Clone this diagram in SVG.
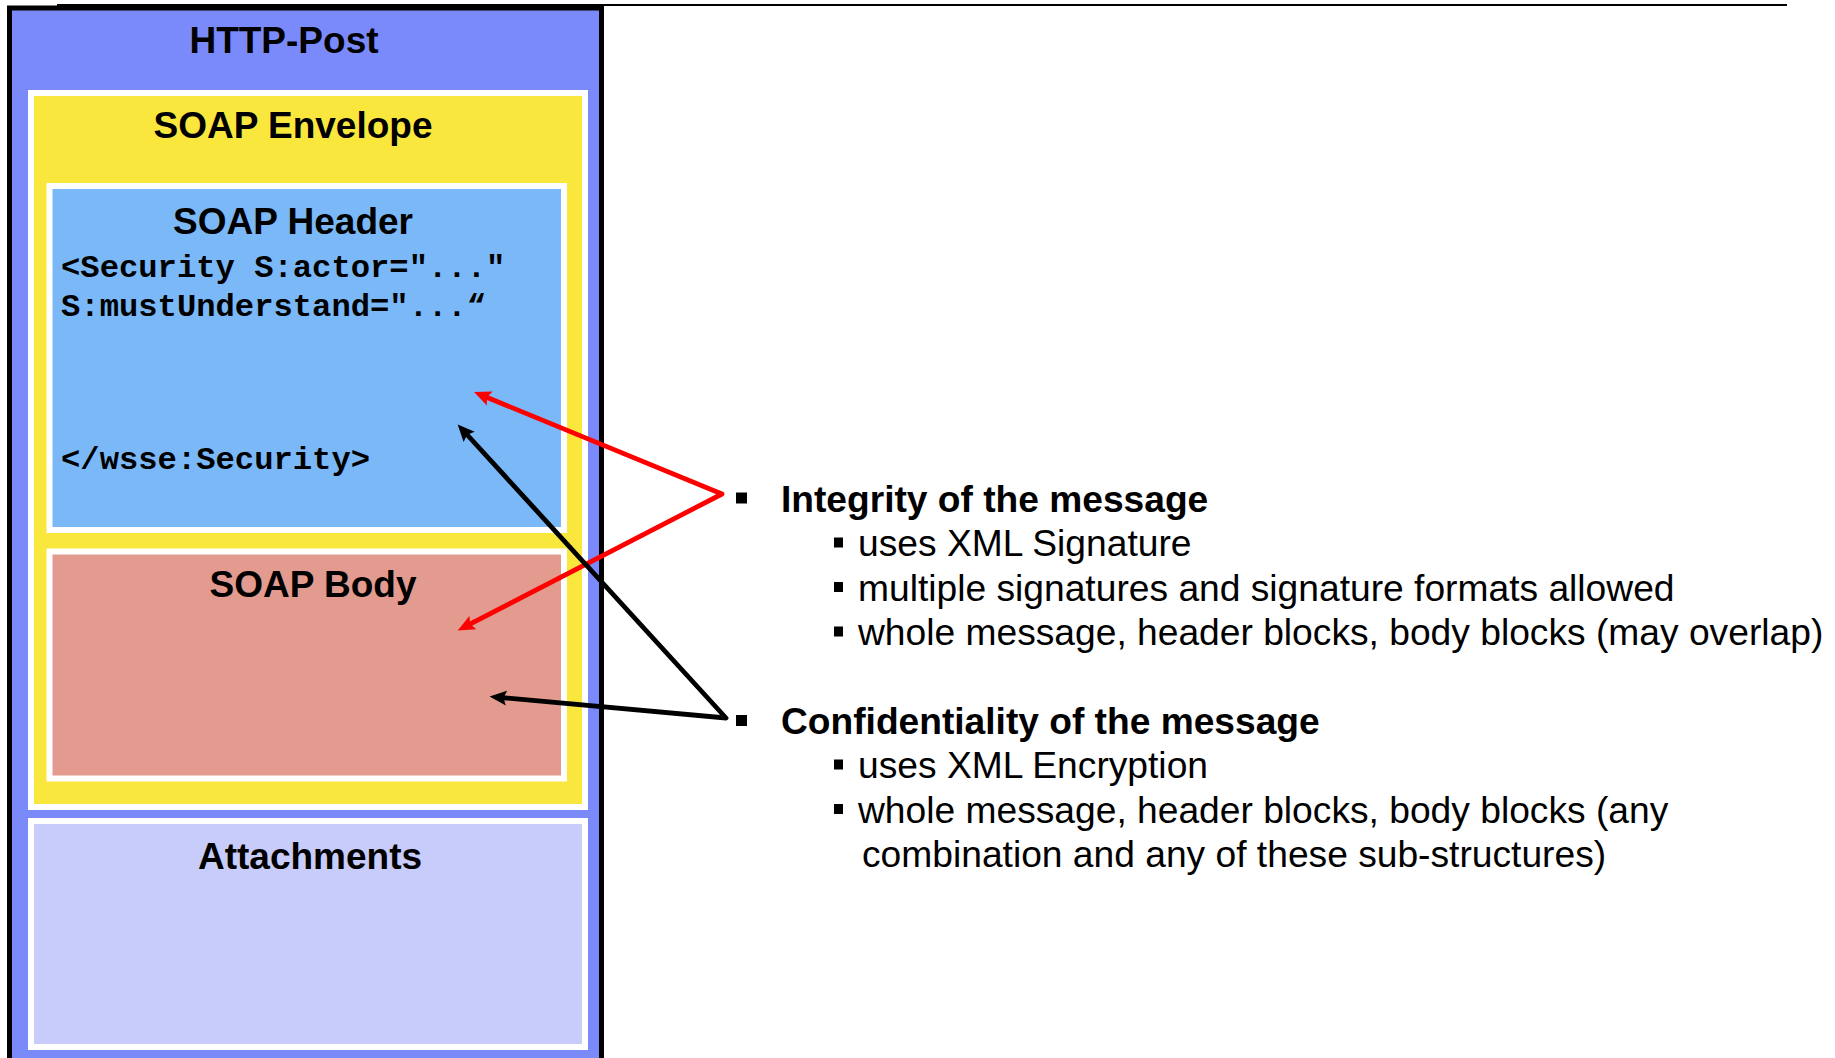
<svg xmlns="http://www.w3.org/2000/svg" width="1835" height="1058" viewBox="0 0 1835 1058">
  <style>
    .title { font-family: "Liberation Sans", Arial, sans-serif; font-weight: bold; font-size: 37px; fill: #000; text-anchor: middle; }
    .code { font-family: "Liberation Mono", "Courier New", monospace; font-weight: bold; font-size: 32.2px; fill: #000; }
    .h1 { font-family: "Liberation Sans", Arial, sans-serif; font-weight: bold; font-size: 37.15px; fill: #000; }
    .h2 { font-family: "Liberation Sans", Arial, sans-serif; font-size: 37.2px; fill: #000; }
    .box { stroke: #fff; stroke-width: 6; }
    .arrow { fill: none; stroke-width: 4.8; stroke-linejoin: round; }
  </style>
  <defs>
    <marker id="headRed" markerUnits="userSpaceOnUse" markerWidth="19" markerHeight="16" refX="6" refY="8" orient="auto-start-reverse">
      <path d="M0,0.5 L17,8 L0,15.5 L3,8 z" fill="#ff0000"/>
    </marker>
    <marker id="headBlack" markerUnits="userSpaceOnUse" markerWidth="19" markerHeight="16" refX="6" refY="8" orient="auto-start-reverse">
      <path d="M0,0.5 L17,8 L0,15.5 L3,8 z" fill="#000"/>
    </marker>
  </defs>

  <rect width="1835" height="1058" fill="#fff"/>

  <!-- slide header rule -->
  <line x1="57" y1="5" x2="1787" y2="5" stroke="#000" stroke-width="2"/>

  <g id="http-post">
    <rect x="9.5" y="8" width="592" height="1070" fill="#7b8afa" stroke="#000" stroke-width="5"/>
    <text class="title" x="284" y="53">HTTP-Post</text>
  </g>

  <g id="soap-envelope">
    <rect class="box" x="31" y="93" width="554" height="714" fill="#fae73d"/>
    <text class="title" x="293" y="138">SOAP Envelope</text>
  </g>

  <g id="soap-header">
    <rect class="box" x="49.5" y="186" width="514.5" height="344" fill="#7ab8f8"/>
    <text class="title" x="293" y="234">SOAP Header</text>
    <text class="code" x="61" y="277">&lt;Security S:actor="..."</text>
    <text class="code" x="61" y="316">S:mustUnderstand="...“</text>
    <text class="code" x="61" y="469">&lt;/wsse:Security&gt;</text>
  </g>

  <g id="soap-body">
    <rect class="box" x="49.5" y="551.5" width="514.5" height="227" fill="#e39a8f"/>
    <text class="title" x="313" y="597">SOAP Body</text>
  </g>

  <g id="attachments">
    <rect class="box" x="31" y="821" width="554" height="226" fill="#c8ccfa"/>
    <text class="title" x="310" y="869">Attachments</text>
  </g>

  <g id="integrity">
    <rect x="736" y="492.5" width="11" height="11" fill="#000"/>
    <text class="h1" x="781" y="511.5">Integrity of the message</text>
    <rect x="834" y="537.5" width="9" height="10" fill="#000"/>
    <text class="h2" x="858" y="556">uses XML Signature</text>
    <rect x="834" y="582" width="9" height="10" fill="#000"/>
    <text class="h2" x="858" y="600.5">multiple signatures and signature formats allowed</text>
    <rect x="834" y="626.5" width="9" height="10" fill="#000"/>
    <text class="h2" x="858" y="645">whole message, header blocks, body blocks (may overlap)</text>
  </g>

  <g id="confidentiality">
    <rect x="736" y="715" width="11" height="11" fill="#000"/>
    <text class="h1" x="781" y="733.5">Confidentiality of the message</text>
    <rect x="834" y="759.5" width="9" height="10" fill="#000"/>
    <text class="h2" x="858" y="778">uses XML Encryption</text>
    <rect x="834" y="804" width="9" height="10" fill="#000"/>
    <text class="h2" x="858" y="822.5">whole message, header blocks, body blocks (any</text>
    <text class="h2" x="862" y="867">combination and any of these sub-structures)</text>
  </g>

  <g id="connectors">
    <path class="arrow" stroke="#ff0000" d="M484.2,396.2 L722,494 L467.5,625.4" marker-start="url(#headRed)" marker-end="url(#headRed)"/>
    <path class="arrow" stroke="#000" d="M465.1,432.5 L726,718 L500.5,697.5" marker-start="url(#headBlack)" marker-end="url(#headBlack)"/>
  </g>
</svg>
